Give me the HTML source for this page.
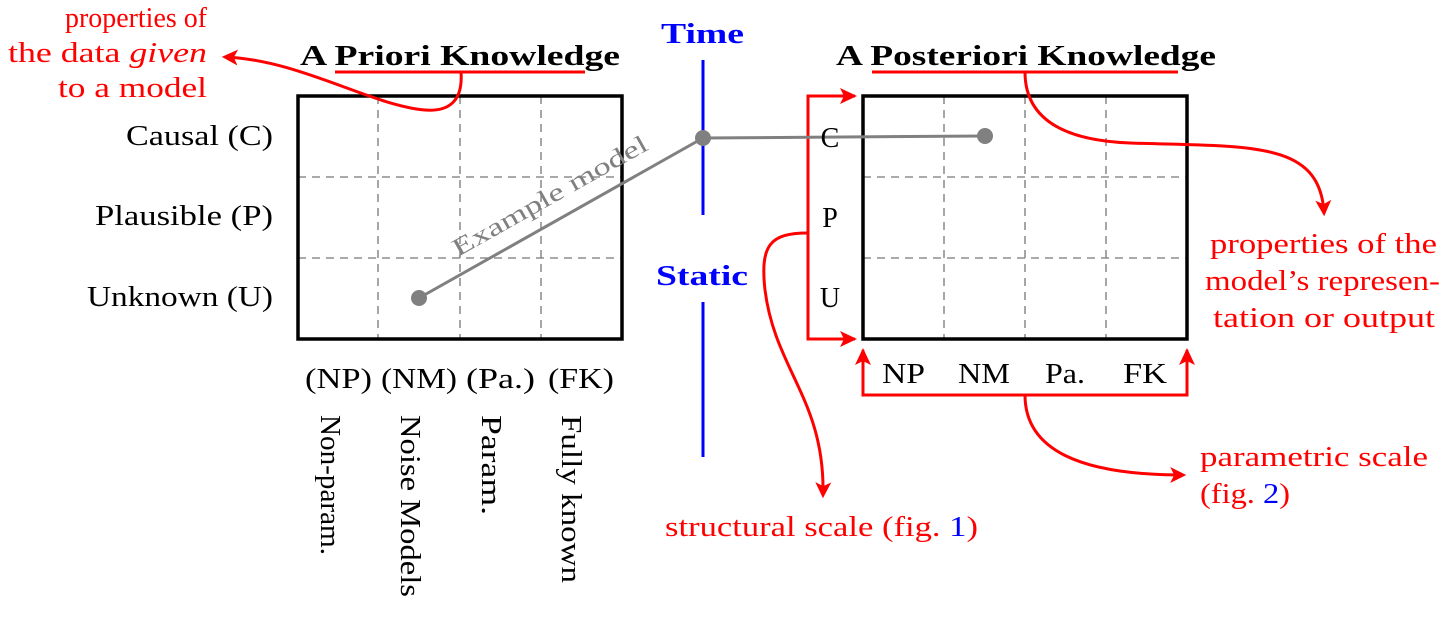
<!DOCTYPE html>
<html><head><meta charset="utf-8"><style>
html,body{margin:0;padding:0;background:#fff;}
svg{display:block;font-family:"Liberation Serif",serif;}
</style></head><body>
<svg width="1456" height="617" viewBox="0 0 1456 617" xmlns="http://www.w3.org/2000/svg">
<defs>
<marker id="a2" viewBox="0 0 10 10" markerWidth="16" markerHeight="16" refX="8" refY="5" orient="auto" markerUnits="userSpaceOnUse">
<path d="M0,0 L10,5 L0,10 L2.5,5 Z" fill="#f00"/>
</marker>
</defs>

<g stroke="#777" stroke-width="1.3" stroke-dasharray="8,6" fill="none">
<line x1="378" y1="96" x2="378" y2="339"/><line x1="460" y1="96" x2="460" y2="339"/><line x1="541" y1="96" x2="541" y2="339"/>
<line x1="298" y1="177" x2="622" y2="177"/><line x1="298" y1="258" x2="622" y2="258"/>
<line x1="944" y1="96" x2="944" y2="339"/><line x1="1025" y1="96" x2="1025" y2="339"/><line x1="1106" y1="96" x2="1106" y2="339"/>
<line x1="863" y1="177" x2="1187" y2="177"/><line x1="863" y1="258" x2="1187" y2="258"/>
</g>
<rect x="298" y="96" width="324" height="243" fill="none" stroke="#000" stroke-width="3.5"/>
<rect x="863" y="96" width="324" height="243" fill="none" stroke="#000" stroke-width="3.5"/>

<line x1="703" y1="60" x2="703" y2="215" stroke="#00f" stroke-width="3"/>
<line x1="703" y1="302" x2="703" y2="457" stroke="#00f" stroke-width="3"/>
<text x="661" y="43" font-size="28" font-weight="bold" fill="#00f" textLength="83" lengthAdjust="spacingAndGlyphs">Time</text>
<text x="656" y="285" font-size="28" font-weight="bold" fill="#00f" textLength="92" lengthAdjust="spacingAndGlyphs">Static</text>

<text x="300" y="65" font-size="28" font-weight="bold" textLength="320" lengthAdjust="spacingAndGlyphs">A Priori Knowledge</text>
<line x1="335" y1="72" x2="585" y2="72" stroke="#f00" stroke-width="3"/>
<text x="836" y="65" font-size="28" font-weight="bold" textLength="380" lengthAdjust="spacingAndGlyphs">A Posteriori Knowledge</text>
<line x1="872" y1="72" x2="1178" y2="72" stroke="#f00" stroke-width="3"/>

<g stroke="#f00" stroke-width="3" fill="none">
<path d="M461,72 C463,100 450,112 425,110 C370,105 300,60 225,57" marker-end="url(#a2)"/>
<path d="M1025,72 C1025,110 1050,140 1130,143 C1250,147 1320,140 1324,213" marker-end="url(#a2)"/>
<path d="M855,96 L808,96 L808,339 L855,339" />
<path d="M808,233 C770,233 760,245 765,290 C775,370 825,400 823,495" marker-end="url(#a2)"/>
<path d="M863,350 L863,395 L1187,395 L1187,350"/>
<path d="M1025,395 C1025,450 1080,475 1183,475" marker-end="url(#a2)"/>
</g>
<g fill="#f00">
<path d="M857,96 L840,88 L844,96 L840,104 Z"/>
<path d="M857,339 L840,331 L844,339 L840,347 Z"/>
<path d="M863,348 L855,365 L863,361 L871,365 Z"/>
<path d="M1187,348 L1179,365 L1187,361 L1195,365 Z"/>
</g>

<polyline points="419,298 703,138 985,136" fill="none" stroke="#808080" stroke-width="3"/>
<circle cx="419" cy="298" r="8" fill="#808080"/>
<circle cx="703" cy="138" r="8" fill="#808080"/>
<circle cx="985" cy="136" r="8" fill="#808080"/>
<text x="0" y="0" font-size="25" fill="#808080" transform="translate(458,257) rotate(-29.4)" textLength="220" lengthAdjust="spacingAndGlyphs">Example model</text>

<g font-size="28">
<text x="126" y="145" textLength="147" lengthAdjust="spacingAndGlyphs">Causal (C)</text>
<text x="95" y="225" textLength="178" lengthAdjust="spacingAndGlyphs">Plausible (P)</text>
<text x="87" y="306" textLength="186" lengthAdjust="spacingAndGlyphs">Unknown (U)</text>
<text x="305" y="388" textLength="67" lengthAdjust="spacingAndGlyphs">(NP)</text>
<text x="381" y="388" textLength="76" lengthAdjust="spacingAndGlyphs">(NM)</text>
<text x="466" y="388" textLength="69" lengthAdjust="spacingAndGlyphs">(Pa.)</text>
<text x="548" y="388" textLength="66" lengthAdjust="spacingAndGlyphs">(FK)</text>
<text x="882" y="383" textLength="43" lengthAdjust="spacingAndGlyphs">NP</text>
<text x="958" y="383" textLength="52" lengthAdjust="spacingAndGlyphs">NM</text>
<text x="1045" y="383" textLength="40" lengthAdjust="spacingAndGlyphs">Pa.</text>
<text x="1123" y="383" textLength="44" lengthAdjust="spacingAndGlyphs">FK</text>
</g>
<g font-size="28" text-anchor="middle">
<text x="830" y="147">C</text><text x="830" y="227">P</text><text x="830" y="307">U</text>
</g>
<g font-size="28">
<text transform="translate(321,415) rotate(90)" textLength="140" lengthAdjust="spacingAndGlyphs">Non-param.</text>
<text transform="translate(401,415) rotate(90)" textLength="182" lengthAdjust="spacingAndGlyphs">Noise Models</text>
<text transform="translate(482,415) rotate(90)" textLength="100" lengthAdjust="spacingAndGlyphs">Param.</text>
<text transform="translate(562,415) rotate(90)" textLength="168" lengthAdjust="spacingAndGlyphs">Fully known</text>
</g>

<g font-size="28" fill="#f00">
<text x="65" y="27" textLength="142" lengthAdjust="spacingAndGlyphs">properties of</text>
<text x="8" y="62" textLength="199" lengthAdjust="spacingAndGlyphs">the data <tspan font-style="italic">given</tspan></text>
<text x="58" y="97" textLength="149" lengthAdjust="spacingAndGlyphs">to a model</text>
<text x="1210" y="253" textLength="227" lengthAdjust="spacingAndGlyphs">properties of the</text>
<text x="1205" y="290" textLength="235" lengthAdjust="spacingAndGlyphs">model’s represen-</text>
<text x="1213" y="327" textLength="222" lengthAdjust="spacingAndGlyphs">tation or output</text>
<text x="665" y="536" textLength="313" lengthAdjust="spacingAndGlyphs">structural scale (fig. <tspan fill="#00f">1</tspan>)</text>
<text x="1200" y="466" textLength="228" lengthAdjust="spacingAndGlyphs">parametric scale</text>
<text x="1200" y="503" textLength="90" lengthAdjust="spacingAndGlyphs">(fig. <tspan fill="#00f">2</tspan>)</text>
</g>
</svg>
</body></html>
